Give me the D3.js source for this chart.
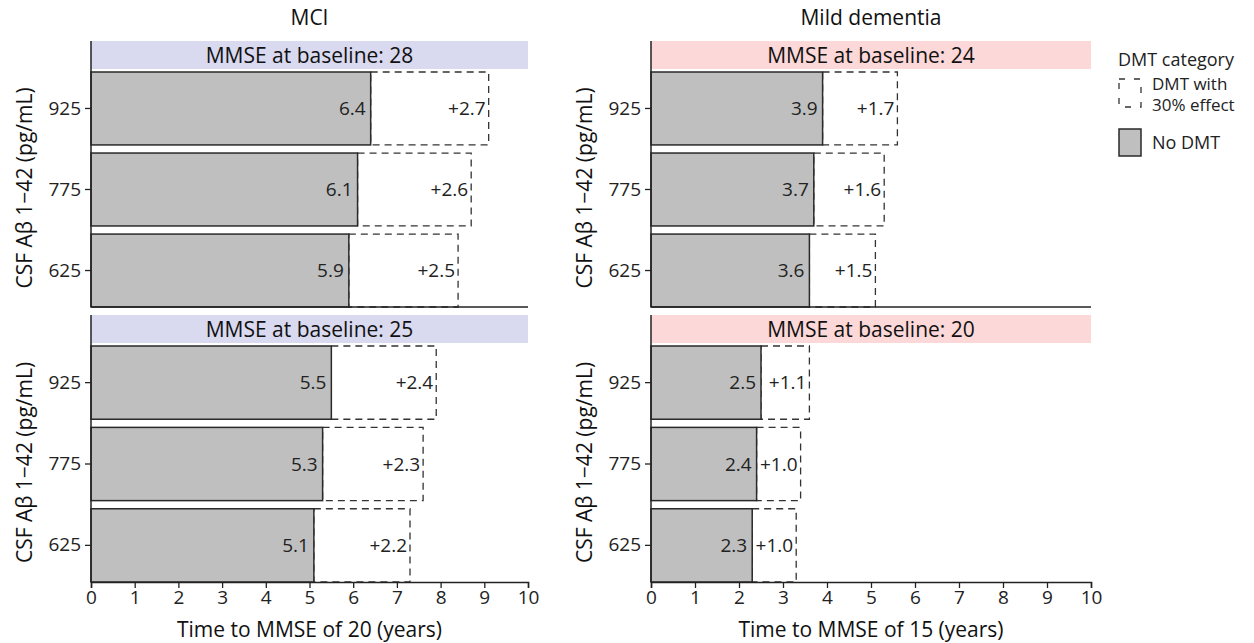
<!DOCTYPE html>
<html lang="en">
<head>
<meta charset="UTF-8">
<title>Time to MMSE threshold by CSF Aβ</title>
<script src="https://d3js.org/d3.v7.min.js"></script>
<style>
  body { margin: 0; background: #fff; }
  svg { font-family: "Open Sans", "Noto Sans", sans-serif; }
  .tick line, .domain { stroke: #222; }
  .bar-label { font-size: 19px; fill: #222; }
  .strip-label { font-size: 21px; fill: #111; }
  .title { font-size: 21px; fill: #111; }
  .legend-text { font-size: 17px; fill: #222; }
</style>
</head>
<body>
<svg id="chart" width="1254" height="643"></svg>
<script>
// chart data
var columns = ["MCI", "Mild dementia"];
var xTitles = ["Time to MMSE of 20 (years)", "Time to MMSE of 15 (years)"];
var baselines = [[28, 25], [24, 20]];
var csfLevels = ["925", "775", "625"];
// years without DMT, [column][row][csf level]
var noDmtYears = [
  [[6.4, 6.1, 5.9], [5.5, 5.3, 5.1]],
  [[3.9, 3.7, 3.6], [2.5, 2.4, 2.3]]
];
// extra years with DMT (30% effect)
var dmtGain = [
  [[2.7, 2.6, 2.5], [2.4, 2.3, 2.2]],
  [[1.7, 1.6, 1.5], [1.1, 1.0, 1.0]]
];
var xTicks = [0, 1, 2, 3, 4, 5, 6, 7, 8, 9, 10];

var stripFill = ["#d9d9ef", "#fcd8d8"];
var panelX = [[91, 528], [651, 1091]];
var rowY = [[41, 69, 307], [315, 343, 582]]; // strip top, strip bottom, plot bottom
var dash = "7,5";

var svg = d3.select("#chart");

function styleAxis(a) {
  a.attr("font-family", null).attr("font-size", null);
  a.selectAll(".tick text")
    .style("font-family", "'Open Sans', 'Noto Sans', sans-serif")
    .style("font-size", "19px")
    .attr("fill", "#222");
  a.selectAll(".tick line").attr("stroke-width", 1.3);
}

columns.forEach(function(colName, c) {
  var x = d3.scaleLinear().domain([0, 10]).range(panelX[c]);

  svg.append("text")
    .attr("class", "title")
    .attr("x", (panelX[c][0] + panelX[c][1]) / 2)
    .attr("y", 25)
    .attr("text-anchor", "middle")
    .text(colName);

  baselines[c].forEach(function(bl, r) {
    var ry = rowY[r];
    var y = d3.scaleBand().domain(csfLevels)
      .range([ry[1] + 3, ry[2]])
      .paddingInner(0.1)
      .paddingOuter(0.0);

    var g = svg.append("g");

    // facet strip
    g.append("rect")
      .attr("x", x(0)).attr("y", ry[0])
      .attr("width", x(10) - x(0)).attr("height", ry[1] - ry[0])
      .attr("fill", stripFill[c]);
    g.append("text")
      .attr("class", "strip-label")
      .attr("x", (x(0) + x(10)) / 2)
      .attr("y", (ry[0] + ry[1]) / 2)
      .attr("dy", "0.36em")
      .attr("text-anchor", "middle")
      .text("MMSE at baseline: " + bl);

    var rows = csfLevels.map(function(lv, i) {
      return { level: lv, base: noDmtYears[c][r][i], gain: dmtGain[c][r][i] };
    });

    // DMT dashed boxes
    g.selectAll(".dmt")
      .data(rows)
      .enter().append("rect")
      .attr("class", "dmt")
      .attr("x", function(d) { return x(d.base); })
      .attr("y", function(d) { return y(d.level); })
      .attr("width", function(d) { return x(d.base + d.gain) - x(d.base); })
      .attr("height", y.bandwidth())
      .attr("fill", "none")
      .attr("stroke", "#333")
      .attr("stroke-width", 1.3)
      .attr("stroke-dasharray", dash);

    // no DMT bars
    g.selectAll(".nodmt")
      .data(rows)
      .enter().append("rect")
      .attr("class", "nodmt")
      .attr("x", x(0))
      .attr("y", function(d) { return y(d.level); })
      .attr("width", function(d) { return x(d.base) - x(0); })
      .attr("height", y.bandwidth())
      .attr("fill", "#bfbfbf")
      .attr("stroke", "#2a2a2a")
      .attr("stroke-width", 1.5);

    g.selectAll(".base-label")
      .data(rows)
      .enter().append("text")
      .attr("class", "bar-label")
      .attr("x", function(d) { return x(d.base) - 5; })
      .attr("y", function(d) { return y(d.level) + y.bandwidth() / 2; })
      .attr("dy", "0.36em")
      .attr("text-anchor", "end")
      .text(function(d) { return d.base.toFixed(1); });

    g.selectAll(".gain-label")
      .data(rows)
      .enter().append("text")
      .attr("class", "bar-label")
      .attr("x", function(d) { return x(d.base + d.gain) - 3; })
      .attr("y", function(d) { return y(d.level) + y.bandwidth() / 2; })
      .attr("dy", "0.36em")
      .attr("text-anchor", "end")
      .text(function(d) { return "+" + d.gain.toFixed(1); });

    // y axis
    g.append("g")
      .attr("transform", "translate(" + x(0) + ",0)")
      .call(d3.axisLeft(y).tickSize(6).tickPadding(4))
      .call(function(a) { a.select(".domain").remove(); })
      .call(styleAxis);
    g.append("line")
      .attr("x1", x(0)).attr("x2", x(0))
      .attr("y1", ry[0]).attr("y2", ry[2])
      .attr("stroke", "#222").attr("stroke-width", 1.5);

    // x axis / bottom line
    if (r === baselines[c].length - 1) {
      g.append("g")
        .attr("transform", "translate(0," + ry[2] + ")")
        .call(d3.axisBottom(x).tickValues(xTicks).tickFormat(d3.format("d")).tickSize(6).tickPadding(3))
        .call(function(a) {
          a.select(".domain").attr("stroke-width", 1.5);
        })
        .call(styleAxis);
      g.append("text")
        .attr("class", "title")
        .attr("x", (x(0) + x(10)) / 2)
        .attr("y", 637)
        .attr("text-anchor", "middle")
        .text(xTitles[c]);
    } else {
      g.append("line")
        .attr("x1", x(0)).attr("x2", x(10))
        .attr("y1", ry[2]).attr("y2", ry[2])
        .attr("stroke", "#222").attr("stroke-width", 1.5);
    }

    // y axis title
    var cy = (ry[1] + ry[2]) / 2;
    var tx = panelX[c][0] - 59;
    g.append("text")
      .attr("class", "title")
      .attr("transform", "translate(" + tx + "," + cy + ") rotate(-90)")
      .attr("text-anchor", "middle")
      .text("CSF A\u03B2 1\u221242 (pg/mL)");
  });
});

// legend
var lg = svg.append("g").attr("transform", "translate(1118,0)");
lg.append("text").attr("class", "legend-text").attr("x", 0).attr("y", 66).style("font-size", "18px").text("DMT category");
lg.append("rect")
  .attr("x", 1).attr("y", 79).attr("width", 22).attr("height", 28)
  .attr("fill", "none").attr("stroke", "#333").attr("stroke-width", 1.3)
  .attr("stroke-dasharray", "6,9");
lg.append("text").attr("class", "legend-text").attr("x", 34).attr("y", 90).text("DMT with");
lg.append("text").attr("class", "legend-text").attr("x", 34).attr("y", 111).text("30% effect");
lg.append("rect")
  .attr("x", 1).attr("y", 129).attr("width", 22).attr("height", 27)
  .attr("fill", "#bfbfbf").attr("stroke", "#2a2a2a").attr("stroke-width", 1.5);
lg.append("text").attr("class", "legend-text").attr("x", 34).attr("y", 149).style("font-size", "18px").text("No DMT");
</script>
</body>
</html>
